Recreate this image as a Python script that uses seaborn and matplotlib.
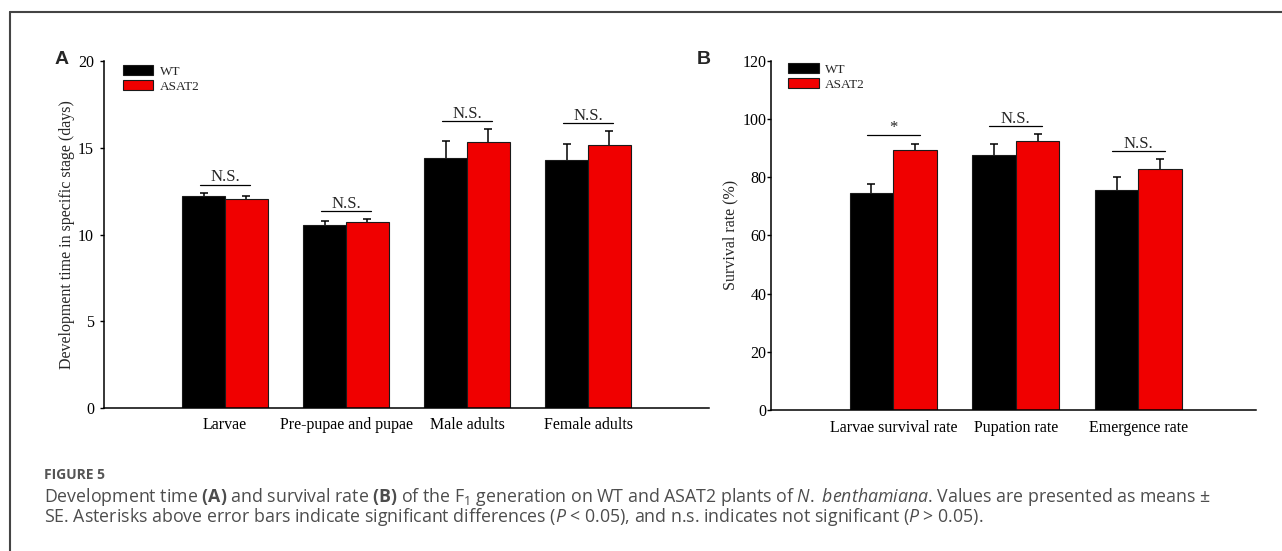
import matplotlib
matplotlib.use("Agg")
import matplotlib.pyplot as plt
from matplotlib.lines import Line2D
import seaborn as sns
import pandas as pd
import numpy as np

# ---------------- data ----------------
genotypes = ["WT", "ASAT2"]

stages_a = ["Larvae", "Pre-pupae and pupae", "Male adults", "Female adults"]
wt_a = [12.24, 10.57, 14.43, 14.30]
wt_a_se = [0.16, 0.20, 0.96, 0.90]
asat_a = [12.05, 10.73, 15.35, 15.18]
asat_a_se = [0.16, 0.15, 0.73, 0.81]
sig_a_text = ["N.S.", "N.S.", "N.S.", "N.S."]
sig_a_y = [12.88, 11.36, 16.56, 16.41]

stages_b = ["Larvae survival rate", "Pupation rate", "Emergence rate"]
wt_b = [74.6, 87.5, 75.7]
wt_b_se = [3.1, 4.0, 4.5]
asat_b = [89.3, 92.5, 82.8]
asat_b_se = [2.2, 2.3, 3.3]
sig_b_text = ["*", "N.S.", "N.S."]
sig_b_y = [94.5, 97.5, 89.0]

yticks_a = [0, 5, 10, 15, 20]
yticks_b = [0, 20, 40, 60, 80, 100, 120]

ylabel_a = "Development time in specific stage (days)"
ylabel_b = "Survival rate (%)"

caption_title = "FIGURE 5"
caption_l1 = (r"Development time $\mathbf{(A)}$ and survival rate $\mathbf{(B)}$ of the F$_1$ "
              r"generation on WT and ASAT2 plants of $\mathit{N.}$ $\mathit{benthamiana}$. "
              "Values are presented as means \u00b1")
caption_l2 = (r"SE. Asterisks above error bars indicate significant differences "
              r"($\mathit{P}$ < 0.05), and n.s. indicates not significant ($\mathit{P}$ > 0.05).")

# ---------------- style ----------------
sns.set_style("ticks")
plt.rcParams["font.family"] = ["Liberation Serif", "DejaVu Serif"]
plt.rcParams["mathtext.fontset"] = "custom"
plt.rcParams["mathtext.rm"] = "Open Sans"
plt.rcParams["mathtext.it"] = "Open Sans:italic"
plt.rcParams["mathtext.bf"] = "Open Sans:bold"

BLACK = "#000000"
RED = "#F00000"
W, H = 1282, 551
fig = plt.figure(figsize=(W / 100, H / 100), dpi=100)


def px_axes(left, right, top, bottom):
    return fig.add_axes([left / W, 1 - bottom / H, (right - left) / W, (bottom - top) / H])


ax_a = px_axes(104, 709, 61, 408.3)
ax_b = px_axes(770.7, 1256, 60.7, 410)


def draw_panel(ax, stages, wt, wt_se, asat, asat_se, sig_text, sig_y, ylim, yticks,
               ylabel, xlim, sig_half, ypad, xpad, ylab_x, leg_x, leg_y):
    df = pd.DataFrame({
        "stage": stages * 2,
        "genotype": [genotypes[0]] * len(stages) + [genotypes[1]] * len(stages),
        "value": wt + asat,
    })
    sns.barplot(data=df, x="stage", y="value", hue="genotype", order=stages,
                hue_order=genotypes, palette=[BLACK, RED], saturation=1, width=0.71, gap=0,
                edgecolor="#1a1a1a", linewidth=0.8, errorbar=None, ax=ax, zorder=2)
    ses = [wt_se, asat_se]
    for cont, se in zip(ax.containers, ses):
        xs = [b.get_x() + b.get_width() / 2 for b in cont]
        hs = [b.get_height() for b in cont]
        ax.errorbar(xs, hs, yerr=se, fmt="none", ecolor="black",
                    elinewidth=1.1, capsize=3.2, capthick=1.1, zorder=1.5)
    for i, (t, y) in enumerate(zip(sig_text, sig_y)):
        ax.plot([i - sig_half, i + sig_half], [y, y], color="black", lw=0.9, zorder=3)
        ax.annotate(t, (i, y), xytext=(0, 2.3), textcoords="offset points",
                    ha="center", va="baseline", fontsize=12)
    ax.set_xlim(*xlim)
    ax.set_ylim(*ylim)
    ax.set_yticks(yticks)
    ax.set_xlabel("")
    ax.set_ylabel(ylabel, fontsize=11.5)
    ax.yaxis.set_label_coords(ylab_x, 0.5)
    sns.despine(ax=ax)
    for s in ["left", "bottom"]:
        ax.spines[s].set_linewidth(1.1)
        ax.spines[s].set_color("black")
    ax.tick_params(axis="x", length=0, pad=xpad, labelsize=11.5, colors="black")
    ax.tick_params(axis="y", length=2.6, width=1.0, pad=ypad, labelsize=11.5,
                   direction="out", colors="black")
    h, l = ax.get_legend_handles_labels()
    ax.legend(h, l, loc="upper left", bbox_to_anchor=(leg_x, leg_y), frameon=False,
              fontsize=9.5, borderpad=0, borderaxespad=0, handlelength=2.3,
              handleheight=0.78, labelspacing=0.2, handletextpad=0.5)


draw_panel(ax_a, stages_a, wt_a, wt_a_se, asat_a, asat_a_se, sig_a_text, sig_a_y,
           (0, 20), yticks_a, ylabel_a, (-1, 4), 0.205, 4.5, 6.0, -0.048, 0.031, 0.988)
draw_panel(ax_b, stages_b, wt_b, wt_b_se, asat_b, asat_b_se, sig_b_text, sig_b_y,
           (0, 120), yticks_b, ylabel_b, (-1, 2.96), 0.215, 0.5, 7.0, -0.0674, 0.036, 0.993)

# panel letters
fig.text(55 / W, 1 - 64 / H, "A", fontsize=14, fontweight="bold",
         family=["Liberation Sans", "DejaVu Sans"], va="baseline", ha="left")
fig.text(697 / W, 1 - 64 / H, "B", fontsize=14, fontweight="bold",
         family=["Liberation Sans", "DejaVu Sans"], va="baseline", ha="left")

# caption
CAP = "#4d4d4d"
fig.text(44 / W, 1 - 479 / H, caption_title, fontsize=10, fontweight="bold",
         family=["Open Sans", "DejaVu Sans"], color="#555555", va="baseline")
fig.text(44 / W, 1 - 502 / H, caption_l1, fontsize=12.8,
         family=["Open Sans", "DejaVu Sans"], color=CAP, va="baseline")
fig.text(44 / W, 1 - 522.5 / H, caption_l2, fontsize=12.8,
         family=["Open Sans", "DejaVu Sans"], color=CAP, va="baseline")

# frame border
fig.add_artist(Line2D([10 / W, 1], [1 - 12 / H, 1 - 12 / H], color="#444444", lw=1.5,
                      transform=fig.transFigure))
fig.add_artist(Line2D([10 / W, 10 / W], [0, 1 - 12 / H], color="#444444", lw=1.5,
                      transform=fig.transFigure))

fig.savefig("out.png", dpi=100)
